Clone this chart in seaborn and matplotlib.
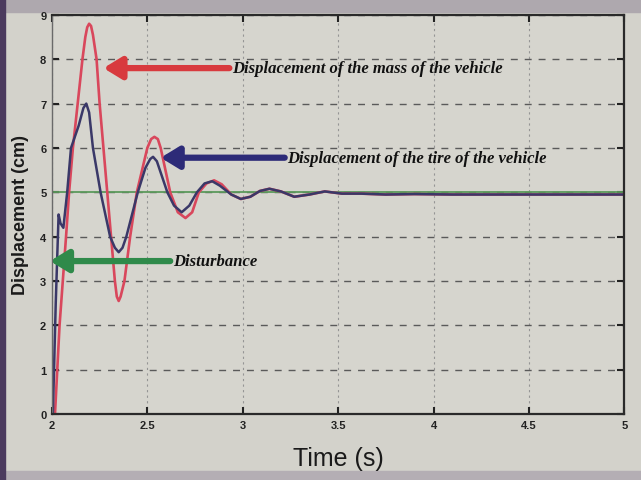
import numpy as np
import pandas as pd
import seaborn as sns
import matplotlib.pyplot as plt
from matplotlib.patches import Rectangle

mass_t = [2.0, 2.016, 2.04, 2.074, 2.09, 2.11, 2.135, 2.16, 2.175, 2.185, 2.195, 2.205,
          2.215, 2.234, 2.25, 2.27, 2.29, 2.31, 2.33, 2.34, 2.35, 2.36, 2.38, 2.41, 2.445,
          2.50, 2.52, 2.537, 2.555, 2.57, 2.62, 2.66, 2.70, 2.735, 2.77, 2.81, 2.85, 2.89,
          2.94, 2.99, 3.04, 3.09, 3.14, 3.20, 3.27, 3.35, 3.43, 3.52, 3.62, 3.75, 3.90,
          4.10, 4.50, 5.0]
mass_y = [0.0, 0.0, 2.0, 4.0, 5.0, 6.0, 7.0, 8.0, 8.5, 8.72, 8.8, 8.75,
          8.55, 8.0, 7.0, 6.0, 5.0, 4.0, 3.0, 2.65, 2.55, 2.65, 3.0, 4.0, 5.0,
          6.0, 6.2, 6.25, 6.2, 6.0, 5.0, 4.55, 4.42, 4.55, 5.0, 5.2, 5.27, 5.18,
          4.95, 4.85, 4.9, 5.03, 5.08, 5.02, 4.9, 4.95, 5.02, 4.97, 4.97, 4.95, 4.96,
          4.95, 4.95, 4.95]

tire_t = [2.0, 2.005, 2.02, 2.035, 2.045, 2.06, 2.08, 2.10, 2.14, 2.165, 2.18, 2.195,
          2.215, 2.255, 2.305, 2.33, 2.35, 2.37, 2.39, 2.45, 2.49, 2.515, 2.53, 2.55,
          2.605, 2.64, 2.68, 2.72, 2.76, 2.80, 2.84, 2.88, 2.94, 2.99, 3.04, 3.09, 3.14,
          3.20, 3.27, 3.35, 3.43, 3.52, 3.62, 3.75, 3.90, 4.10, 4.50, 5.0]
tire_y = [0.0, 0.0, 2.5, 4.5, 4.3, 4.2, 5.0, 6.0, 6.5, 6.9, 7.0, 6.8,
          6.0, 5.0, 4.0, 3.75, 3.65, 3.75, 4.0, 5.0, 5.55, 5.75, 5.8, 5.7,
          5.0, 4.7, 4.55, 4.7, 5.0, 5.2, 5.25, 5.15, 4.95, 4.85, 4.9, 5.03, 5.08,
          5.02, 4.9, 4.95, 5.02, 4.97, 4.97, 4.95, 4.96, 4.95, 4.95, 4.95]

dist_t = [2.0, 2.0, 5.0]
dist_y = [0.0, 5.0, 5.0]

x_ticks = [2, 2.5, 3, 3.5, 4, 4.5, 5]
x_labels = ['2', '2.5', '3', '3.5', '4', '4.5', '5']
y_ticks = list(range(10))

labels = ['Displacement of the mass of the vehicle',
          'Displacement of the tire of the vehicle',
          'Disturbance']


def make_frame(t, y, name):
    return pd.DataFrame({'t': t, 'y': y, 'series': name})


sns.set_theme(style='ticks')
plt.rcParams['font.family'] = ['Liberation Sans', 'DejaVu Sans']

bg = '#d3d2cb'
fig = plt.figure(figsize=(6.41, 4.81), dpi=100, facecolor=bg)
ax = fig.add_axes([0.081, 0.137, 0.893, 0.830])
ax.set_facecolor('#d6d5ce')

# photo border bits
fig.patches.append(Rectangle((0, 0.972), 1, 0.028, transform=fig.transFigure,
                             color='#aea8ae', zorder=-5))
fig.patches.append(Rectangle((0, 0), 1, 0.018, transform=fig.transFigure,
                             color='#b4aeb4', zorder=-5))
fig.patches.append(Rectangle((0, 0), 0.008, 1, transform=fig.transFigure,
                             color='#4b3a5e', zorder=-5))

green = '#5c9a5c'
red = '#d9475c'
blue = '#3a3868'

sns.lineplot(data=make_frame(dist_t, dist_y, 'dist'), x='t', y='y', sort=False,
             estimator=None, color=green, lw=1.3, ax=ax)
sns.lineplot(data=make_frame(mass_t, mass_y, 'mass'), x='t', y='y', sort=False,
             estimator=None, color=red, lw=1.9, ax=ax)
sns.lineplot(data=make_frame(tire_t, tire_y, 'tire'), x='t', y='y', sort=False,
             estimator=None, color=blue, lw=1.8, ax=ax)

ax.set_xlim(2, 5)
ax.set_ylim(0, 9)
ax.set_xticks(x_ticks)
ax.set_xticklabels(x_labels)
ax.set_yticks(y_ticks)

ax.grid(axis='y', linestyle=(0, (5, 5)), color='#5a5a5a', lw=1.0)
ax.grid(axis='x', linestyle=(0, (2, 3)), color='#959595', lw=0.8)

ax.tick_params(direction='in', top=True, right=True, length=5, width=1.5,
               labelsize=8, colors='#222222', pad=4)
for lab in ax.get_xticklabels() + ax.get_yticklabels():
    lab.set_fontweight('bold')
for side in ['top', 'bottom', 'right']:
    ax.spines[side].set_color('#2a2a2a')
    ax.spines[side].set_linewidth(1.6)
ax.spines['left'].set_color('#6a6a6a')
ax.spines['left'].set_linewidth(1.0)

ax.set_xlabel('Time (s)', fontsize=18, labelpad=12, color='#1a1a1a')
ax.set_ylabel('Displacement (cm)', fontsize=13, fontweight='bold', labelpad=8,
              color='#1a1a1a')

# arrows and notes
arrows = [((2.27, 7.8), (2.93, 7.8), '#d83a3e', labels[0]),
          ((2.57, 5.78), (3.22, 5.78), '#2d2b78', labels[1]),
          ((1.99, 3.45), (2.62, 3.45), '#2f8a4a', labels[2])]
for head, tail, col, txt in arrows:
    ax.annotate('', xy=head, xytext=tail, annotation_clip=False,
                arrowprops=dict(arrowstyle='-|>,head_length=0.9,head_width=0.55',
                                lw=4.5, color=col, shrinkA=0, shrinkB=0))
    ax.text(tail[0] + 0.015, tail[1], txt, va='center', ha='left', fontsize=12,
            fontweight='bold', fontstyle='italic', color='#111111',
            family=['Liberation Serif', 'DejaVu Serif'])

fig.savefig('out.png', dpi=100, facecolor=bg)
